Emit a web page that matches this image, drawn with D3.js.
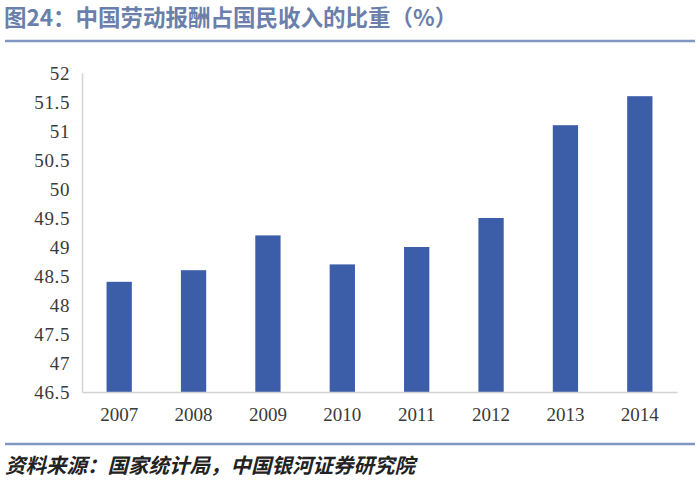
<!DOCTYPE html>
<html>
<head>
<meta charset="utf-8">
<script src="https://cdn.jsdelivr.net/npm/d3@7"></script>
<style>
  body { margin: 0; background: #fff; }
  svg { display: block; }
</style>
</head>
<body>
<svg id="chart" width="700" height="484"></svg>
<script>
// Labour compensation share of national income, 2007-2014 (%)
const years = ["2007", "2008", "2009", "2010", "2011", "2012", "2013", "2014"];
const shares = [48.4, 48.6, 49.2, 48.7, 49.0, 49.5, 51.1, 51.6];
const yTicks = [46.5, 47, 47.5, 48, 48.5, 49, 49.5, 50, 50.5, 51, 51.5, 52];

const titleText = "图24：中国劳动报酬占国民收入的比重（%）";
const sourceText = "资料来源：国家统计局，中国银河证券研究院";

const svg = d3.select("#chart");
const margin = { top: 73, right: 23, bottom: 92, left: 82 };
const width = 700 - margin.left - margin.right;
const height = 484 - margin.top - margin.bottom;

// header + rule
svg.append("text")
    .attr("x", 4).attr("y", 26)
    .attr("font-family", "'Noto Sans CJK SC', sans-serif")
    .attr("font-weight", "bold")
    .attr("font-size", 22.5)
    .attr("fill", "#6a7fab")
    .text(titleText);
svg.append("line")
    .attr("x1", 5).attr("x2", 695).attr("y1", 41).attr("y2", 41)
    .attr("stroke", "#8096c3").attr("stroke-width", 2.5);

const g = svg.append("g").attr("transform", `translate(${margin.left},${margin.top})`);

const x = d3.scaleBand().domain(years).range([0, width]).paddingInner(0.66).paddingOuter(0.33);
const y = d3.scaleLinear().domain([46.5, 52]).range([height, 0]);

// bars
g.selectAll("rect.bar")
    .data(years.map((yr, i) => ({ yr, v: shares[i] })))
    .join("rect")
    .attr("class", "bar")
    .attr("x", d => x(d.yr))
    .attr("width", x.bandwidth())
    .attr("y", d => y(d.v))
    .attr("height", d => height - y(d.v))
    .attr("fill", "#3c5ea9");

// axes
const yAxis = g.append("g")
    .call(d3.axisLeft(y).tickValues(yTicks).tickSize(0).tickPadding(12).tickFormat(d3.format("")));
const xAxis = g.append("g")
    .attr("transform", `translate(0,${height})`)
    .call(d3.axisBottom(x).tickSize(0).tickPadding(16));

[yAxis, xAxis].forEach(ax => {
    ax.select(".domain").attr("stroke", "#d3d3d3").attr("stroke-width", 1.5);
    ax.selectAll("text")
        .attr("font-family", "'Liberation Serif', 'DejaVu Serif', serif")
        .attr("font-size", 19)
        .attr("fill", "#3a3a3a");
});
yAxis.selectAll("text").attr("letter-spacing", 0.6);

// footer rule + source
svg.append("line")
    .attr("x1", 5).attr("x2", 695).attr("y1", 444).attr("y2", 444)
    .attr("stroke", "#8096c3").attr("stroke-width", 2.5);
svg.append("text")
    .attr("x", 5).attr("y", 473)
    .attr("font-family", "'Noto Sans CJK SC', sans-serif")
    .attr("font-weight", "bold")
    .attr("font-style", "italic")
    .attr("font-size", 20.5)
    .attr("fill", "#222")
    .text(sourceText);
</script>
</body>
</html>
